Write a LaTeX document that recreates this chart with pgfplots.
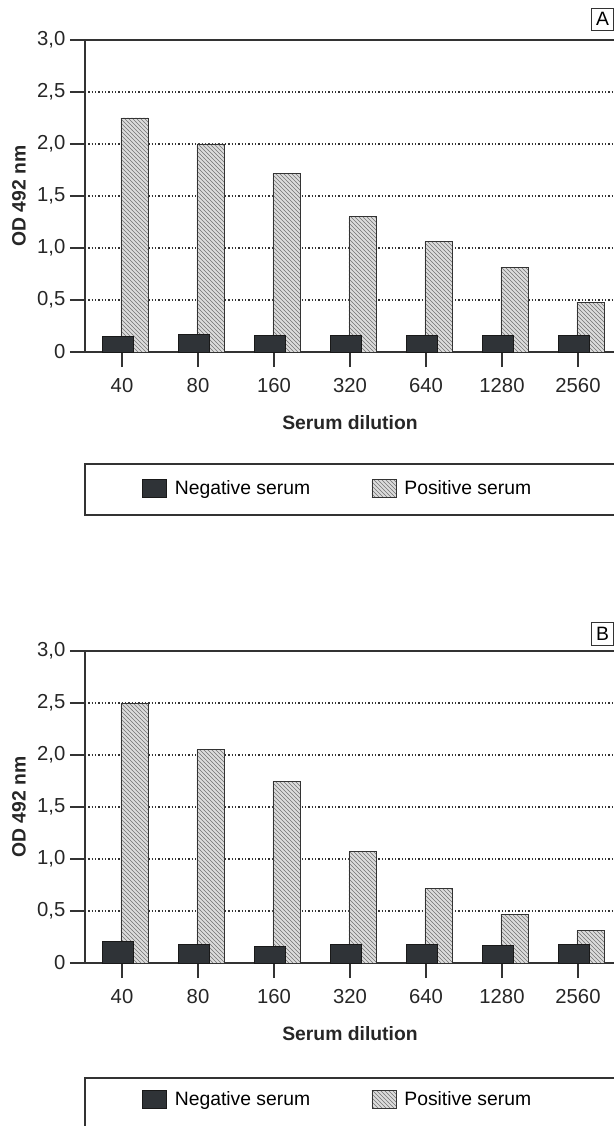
\documentclass[border=0pt]{standalone}
\usepackage{fontspec}
\setmainfont{Liberation Sans}
\setsansfont{Liberation Sans}
\usepackage{pgfplots}
\usepackage{pgfplotstable}
\pgfplotsset{compat=1.18}
\usetikzlibrary{patterns}
\definecolor{negc}{HTML}{2F3337}
\definecolor{posc}{HTML}{DCDCDC}
\definecolor{axc}{HTML}{333333}

\pgfplotstableread{
x neg pos
0 0.150 2.25
1 0.165 2.00
2 0.160 1.72
3 0.155 1.30
4 0.155 1.06
5 0.155 0.815
6 0.160 0.48
}\dataA
\pgfplotstableread{
x neg pos
0 0.205 2.50
1 0.180 2.05
2 0.160 1.75
3 0.180 1.07
4 0.180 0.72
5 0.170 0.47
6 0.180 0.31
}\dataB

\newcommand\tfont{\fontsize{14.5}{16}\selectfont}
\newcommand\kfont{\fontsize{15.2}{17}\selectfont}

\pgfplotsset{
 panel/.style={
  scale only axis, width=403.95pt, height=234pt, anchor=south west,
  xmin=-0.487, xmax=6.6, ymin=0, ymax=3,
  axis line style={axc, line width=0.8pt},
  xtick={0,1,2,3,4,5,6}, xticklabels={40,80,160,320,640,1280,2560},
  ytick={0,0.5,1,1.5,2,2.5,3},
  yticklabels={0,{0,5},{1,0},{1,5},{2,0},{2,5},{3,0}},
  tick align=outside, major tick length=11.25pt,
  xtick pos=left, ytick pos=left,
  tick style={axc, line width=0.8pt},
  ymajorgrids, grid style={axc, line width=0.8pt, dash pattern=on 1.1pt off 1.4pt},
  tick label style={font=\kfont, color=black!85},
  xticklabel style={yshift=-5pt},
  xlabel={Serum dilution}, ylabel={OD 492 nm},
  every axis x label/.style={at={(rel axis cs:0.4920,0)}, anchor=center, yshift=-53.25pt,
    font=\bfseries\tfont, color=black!85},
  every axis y label/.style={at={(rel axis cs:-0.1225,0.5)}, rotate=90, anchor=center,
    font=\bfseries\tfont, color=black!85},
  legend columns=2, reverse legend,
  legend style={draw=none, fill=none, anchor=west, at={(0.098,-0.436)}, font=\tfont,
    /tikz/every even column/.append style={column sep=44pt},
    /tikz/every odd column/.append style={column sep=4pt}},
  legend image code/.code={\draw[#1] (0pt,-6.75pt) rectangle (18pt,6.75pt);},
 },
 posbar/.style={ybar, bar width=0.355, bar shift=0.164, draw=axc, line width=0.6pt,
   fill=posc, postaction={pattern=north west lines, pattern color=black!55}},
 negbar/.style={ybar, bar width=0.408, bar shift=-0.059, draw=black!90, line width=0.6pt, fill=negc},
}

\begin{document}
\begin{tikzpicture}
\begin{axis}[panel, at={(63.75pt,-264pt)}]
\addplot[posbar] table[x=x,y=pos]{\dataA};
\addlegendentry{Positive serum}
\addplot[negbar] table[x=x,y=neg]{\dataA};
\addlegendentry{Negative serum}
\end{axis}
\draw[axc, line width=0.8pt] (63.75pt,-348pt) rectangle (475pt,-386.25pt);
\node[draw=axc, line width=0.6pt, minimum width=16.5pt, minimum height=17pt, inner sep=0pt, font=\tfont] at (452pt,-14.5pt) {A};

\begin{axis}[panel, at={(63.75pt,-722.25pt)}]
\addplot[posbar] table[x=x,y=pos]{\dataB};
\addlegendentry{Positive serum}
\addplot[negbar] table[x=x,y=neg]{\dataB};
\addlegendentry{Negative serum}
\end{axis}
\draw[axc, line width=0.8pt] (63.75pt,-808.5pt) rectangle (475pt,-860pt);
\node[draw=axc, line width=0.6pt, minimum width=16.5pt, minimum height=17pt, inner sep=0pt, font=\tfont] at (452pt,-475.5pt) {B};

\pgfresetboundingbox
\path[use as bounding box] (0,0) rectangle (459.75pt,-844.5pt);
\end{tikzpicture}
\end{document}
